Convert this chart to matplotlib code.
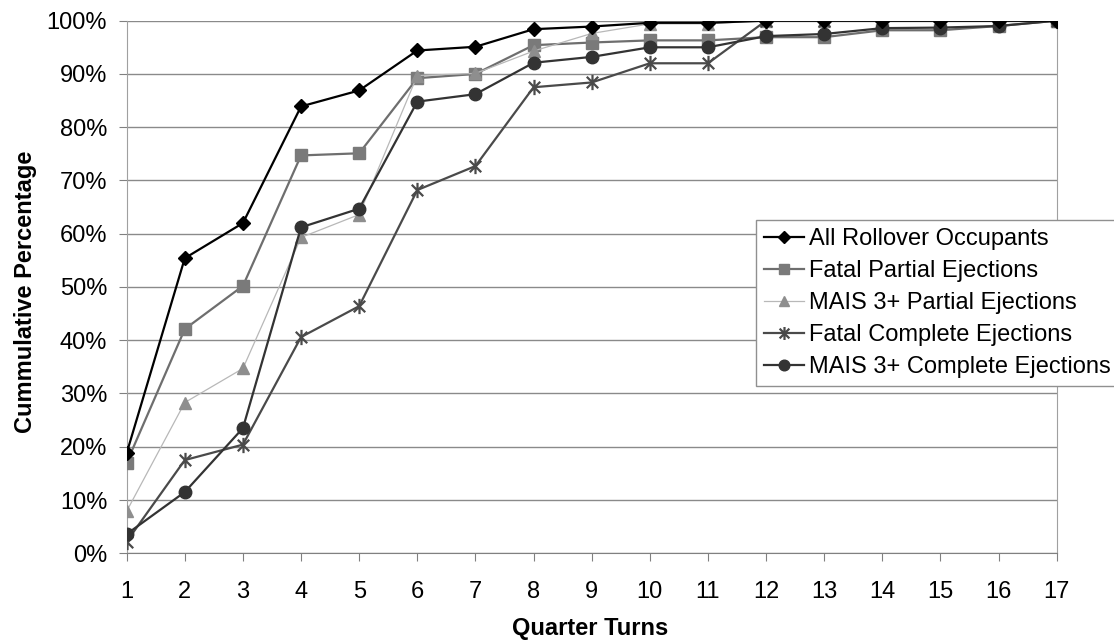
import matplotlib
matplotlib.use("Agg")
import matplotlib.pyplot as plt
from matplotlib.path import Path
from matplotlib.ticker import FuncFormatter

plt.rcParams['font.family'] = ['Liberation Sans', 'DejaVu Sans']

quarter_turns = list(range(1, 18))
series_names = ["All Rollover Occupants", "Fatal Partial Ejections",
                "MAIS 3+ Partial Ejections", "Fatal Complete Ejections",
                "MAIS 3+ Complete Ejections"]
all_rollover = [18.8, 55.4, 62.0, 83.9, 86.9, 94.4, 95.1, 98.4, 98.9, 99.6, 99.6,
                100, 100, 100, 100, 100, 100]
fatal_partial = [17.0, 42.1, 50.2, 74.7, 75.1, 89.2, 90.0, 95.4, 95.9, 96.3, 96.3,
                 96.9, 96.9, 98.2, 98.2, 99.0, 100]
mais_partial = [7.9, 28.3, 34.7, 59.3, 63.6, 89.7, 90.1, 94.3, 97.6, 99.4, 99.4,
                100, 100, 100, 100, 100, 100]
fatal_complete = [2.2, 17.5, 20.4, 40.6, 46.4, 68.2, 72.7, 87.5, 88.4, 92.0, 92.0,
                  100, 100, 100, 100, 100, 100]
mais_complete = [3.6, 11.5, 23.5, 61.2, 64.7, 84.8, 86.2, 92.1, 93.2, 95.0, 95.0,
                 97.1, 97.5, 98.6, 98.7, 99.0, 100]
y_ticks = list(range(0, 101, 10))

# asterisk marker: vertical line plus X
ast = Path([(0, -1), (0, 1), (-0.75, -0.75), (0.75, 0.75), (-0.75, 0.75), (0.75, -0.75)],
           [Path.MOVETO, Path.LINETO, Path.MOVETO, Path.LINETO, Path.MOVETO, Path.LINETO])

fig = plt.figure(figsize=(11.14, 6.42), dpi=100)
ax = fig.add_axes([0.1137, 0.1382, 0.8349, 0.8296])

ax.plot(quarter_turns, all_rollover, color='#000000', lw=1.6, marker='D', ms=7.5,
        mfc='#000000', mec='#000000', label=series_names[0], zorder=5)
ax.plot(quarter_turns, fatal_partial, color='#6e6e6e', lw=1.6, marker='s', ms=8.5,
        mfc='#7a7a7a', mec='#7a7a7a', label=series_names[1], zorder=3)
ax.plot(quarter_turns, mais_partial, color='#b8b8b8', lw=0.9, marker='^', ms=8.5,
        mfc='#8e8e8e', mec='#8e8e8e', label=series_names[2], zorder=3)
ax.plot(quarter_turns, fatal_complete, color='#4a4a4a', lw=1.6, marker=ast, ms=11,
        mfc='none', mec='#4a4a4a', mew=1.6, label=series_names[3], zorder=4)
ax.plot(quarter_turns, mais_complete, color='#333333', lw=1.6, marker='o', ms=9,
        mfc='#333333', mec='#333333', label=series_names[4], zorder=4)

ax.set_xlim(1, 17)
ax.set_ylim(0, 100)
ax.set_xticks(quarter_turns)
ax.set_yticks(y_ticks)
ax.yaxis.set_major_formatter(FuncFormatter(lambda v, p: f"{int(v)}%"))
ax.grid(axis='y', color='#8a8a8a', lw=1.0)
ax.set_axisbelow(True)
ax.spines['top'].set_visible(False)
ax.spines['left'].set_color('#a0a0a0')
ax.spines['right'].set_color('#a0a0a0')
ax.spines['bottom'].set_color('#808080')
ax.tick_params(axis='both', direction='out', length=6, color='#808080',
               labelsize=17)
ax.tick_params(axis='y', pad=8)
ax.tick_params(axis='x', pad=14)

fig.text(0.0225, 1 - 292 / 642, "Cummulative Percentage", rotation=90, ha='center',
         va='center', fontsize=17, fontweight='bold')
fig.text(0.53, 1 - 629 / 642, "Quarter Turns", ha='center', va='center',
         fontsize=17, fontweight='bold')

leg = fig.legend(loc='upper left', bbox_to_anchor=(0.6786, 0.6573), fontsize=17,
                 frameon=True, fancybox=False, framealpha=1, edgecolor='#909090',
                 handlelength=1.7, handletextpad=0.2, labelspacing=0.42,
                 borderpad=0.35, borderaxespad=0, markerscale=0.85)
leg.get_frame().set_linewidth(1.0)

fig.savefig("out.png", dpi=100)
